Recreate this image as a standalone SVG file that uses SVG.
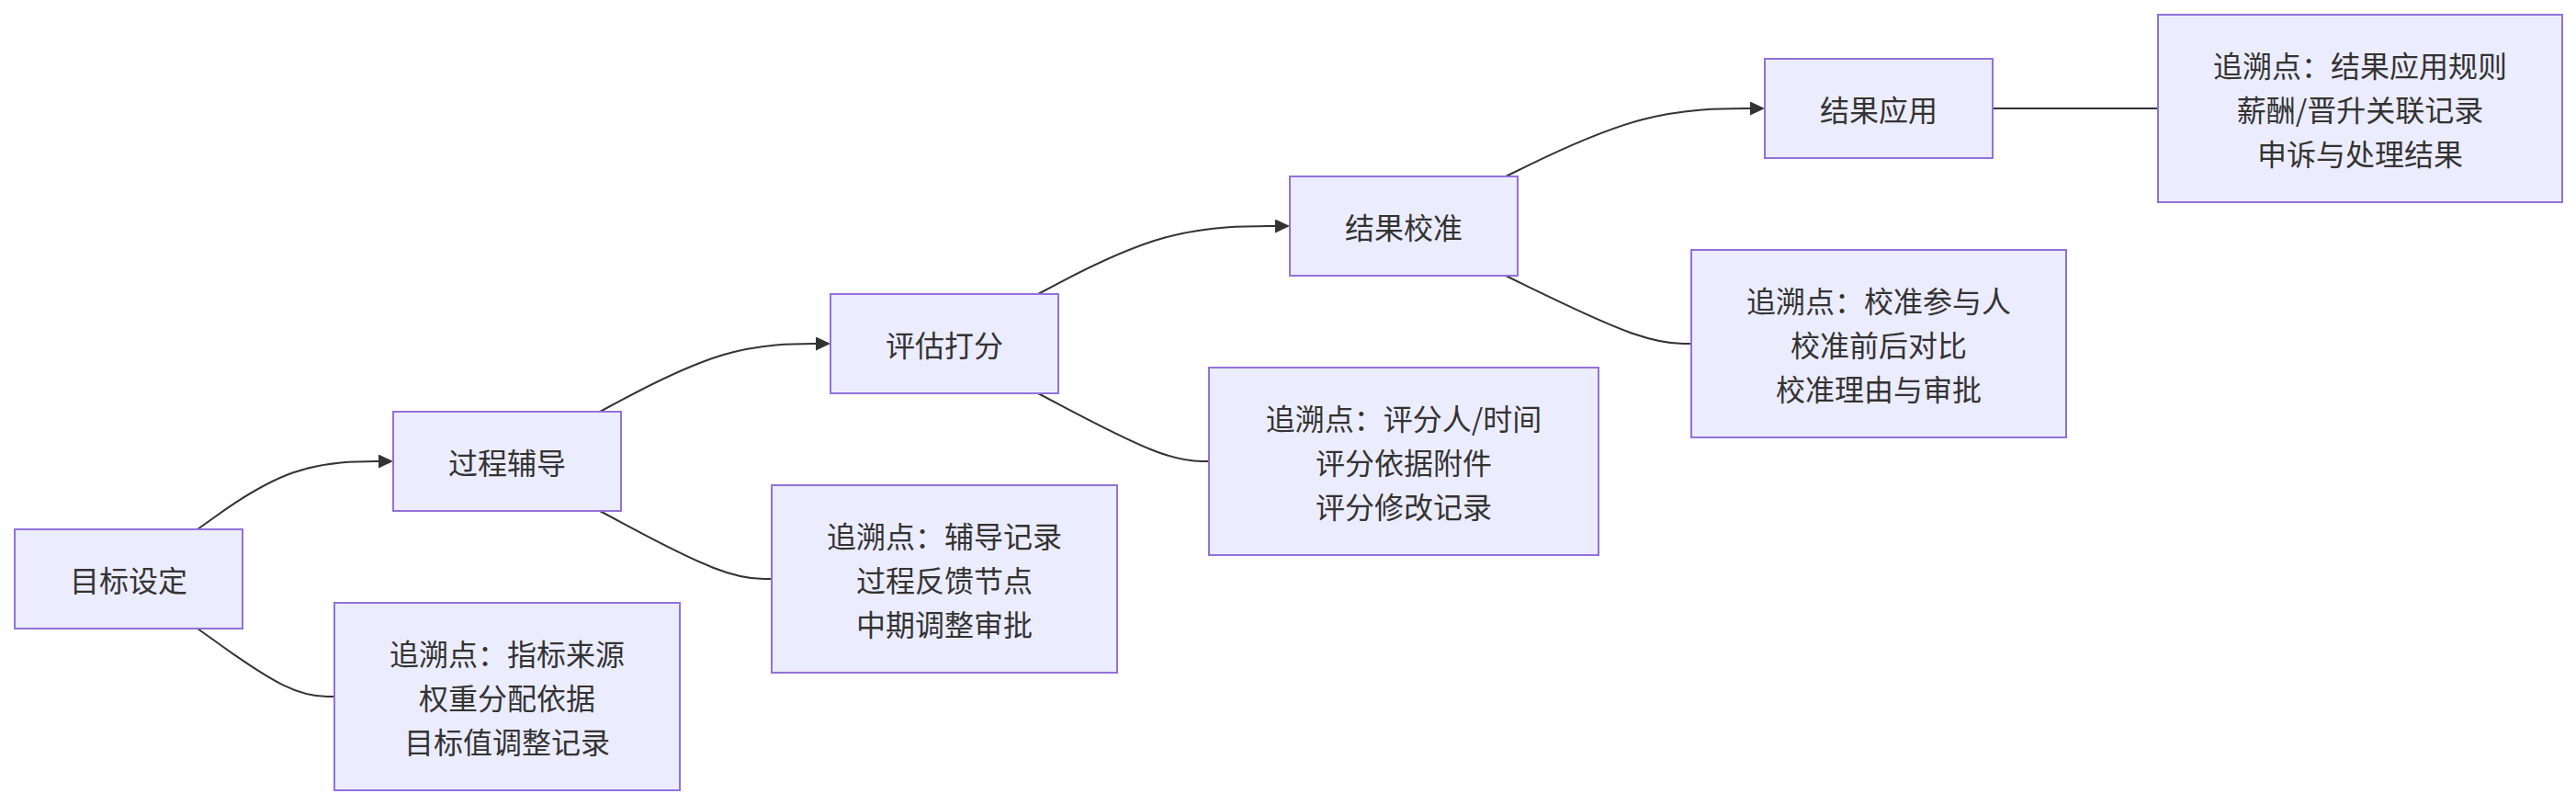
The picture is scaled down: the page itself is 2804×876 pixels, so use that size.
<svg xmlns="http://www.w3.org/2000/svg" width="2804" height="876" viewBox="0 0 2804 876">
<style>
.node rect{fill:#ECECFF;stroke:#9370DB;stroke-width:2}
.node text{font-family:"Noto Sans CJK SC","Noto Sans",sans-serif;font-size:32px;fill:#333;text-anchor:middle;dominant-baseline:central}
.edge{fill:none;stroke:#333;stroke-width:2}
</style>
<defs>
<marker id="arrow" markerUnits="userSpaceOnUse" viewBox="0 0 16 15" refX="12" refY="7.5" markerWidth="16" markerHeight="15" orient="auto">
<path d="M0,0 L16,7.5 L0,15 z" fill="#333"/>
</marker>
</defs>
<rect width="2804" height="876" fill="#fff"/>
<g id="connectors">
<path class="edge" marker-end="url(#arrow)" d="M215,576 L232.2,563.7 C249.3,551.3 283.7,526.7 319.2,514.3 C354.7,502 391.3,502 409.7,502 L424,502"/>
<path class="edge" d="M215,684 L232.2,696.3 C249.3,708.7 283.7,733.3 308.5,745.7 C333.3,758 348.7,758 356.3,758 L364,758"/>
<path class="edge" marker-end="url(#arrow)" d="M653,448 L676,435.7 C699,423.3 745,398.7 786.8,386.3 C828.7,374 866.3,374 885.2,374 L900,374"/>
<path class="edge" d="M653,556 L676,568.3 C699,580.7 745,605.3 776.2,617.7 C807.3,630 823.7,630 831.8,630 L840,630"/>
<path class="edge" marker-end="url(#arrow)" d="M1130,320 L1153.3,307.7 C1176.7,295.3 1223.3,270.7 1269,258.3 C1314.7,246 1359.3,246 1381.7,246 L1400,246"/>
<path class="edge" d="M1130,428 L1153.3,440.3 C1176.7,452.7 1223.3,477.3 1254.3,489.7 C1285.3,502 1300.7,502 1308.3,502 L1316,502"/>
<path class="edge" marker-end="url(#arrow)" d="M1639,192 L1664.3,179.7 C1689.7,167.3 1740.3,142.7 1787.3,130.3 C1834.3,118 1877.7,118 1899.3,118 L1917,118"/>
<path class="edge" d="M1639,300 L1664.3,312.3 C1689.7,324.7 1740.3,349.3 1774,361.7 C1807.7,374 1824.3,374 1832.7,374 L1841,374"/>
<path class="edge" d="M2169,118 L2349,118"/>
</g>
<g id="n1" class="node"><rect x="16" y="576" width="248" height="108"/><text x="140" y="630">目标设定</text></g>
<g id="t1" class="node"><rect x="364" y="656" width="376" height="204"/><text x="552" y="710">追溯点：指标来源</text><text x="552" y="758">权重分配依据</text><text x="552" y="806">目标值调整记录</text></g>
<g id="n2" class="node"><rect x="428" y="448" width="248" height="108"/><text x="552" y="502">过程辅导</text></g>
<g id="t2" class="node"><rect x="840" y="528" width="376" height="204"/><text x="1028" y="582">追溯点：辅导记录</text><text x="1028" y="630">过程反馈节点</text><text x="1028" y="678">中期调整审批</text></g>
<g id="n3" class="node"><rect x="904" y="320" width="248" height="108"/><text x="1028" y="374">评估打分</text></g>
<g id="t3" class="node"><rect x="1316" y="400" width="424" height="204"/><text x="1528" y="454">追溯点：评分人/时间</text><text x="1528" y="502">评分依据附件</text><text x="1528" y="550">评分修改记录</text></g>
<g id="n4" class="node"><rect x="1404" y="192" width="248" height="108"/><text x="1528" y="246">结果校准</text></g>
<g id="t4" class="node"><rect x="1841" y="272" width="408" height="204"/><text x="2045" y="326">追溯点：校准参与人</text><text x="2045" y="374">校准前后对比</text><text x="2045" y="422">校准理由与审批</text></g>
<g id="n5" class="node"><rect x="1921" y="64" width="248" height="108"/><text x="2045" y="118">结果应用</text></g>
<g id="t5" class="node"><rect x="2349" y="16" width="440" height="204"/><text x="2569" y="70">追溯点：结果应用规则</text><text x="2569" y="118">薪酬/晋升关联记录</text><text x="2569" y="166">申诉与处理结果</text></g>
</svg>
